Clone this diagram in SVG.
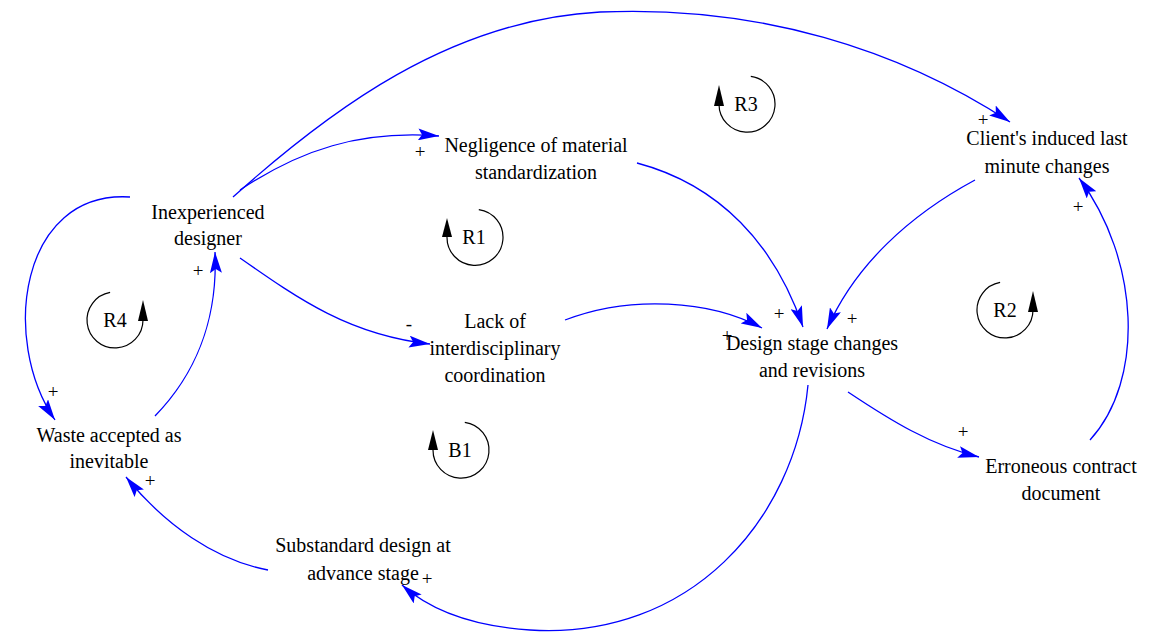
<svg xmlns="http://www.w3.org/2000/svg" width="1149" height="632" viewBox="0 0 1149 632">
  <style>
    text { font-family: "Liberation Serif", "DejaVu Serif", serif; fill: #000; text-anchor: middle; }
    .lbl { font-size: 20px; }
    .pol { font-size: 19px; }
    .link { fill: none; stroke: #0000ff; stroke-width: 1.3; marker-end: url(#arrow); }
    .loop { fill: none; stroke: #000; stroke-width: 1.2; }
    .loophead { fill: #000; }
  </style>
  <defs>
    <marker id="arrow" markerUnits="userSpaceOnUse" markerWidth="22" markerHeight="12" refX="21" refY="6" orient="auto">
      <path d="M0,0 L21,6 L0,12 L4,6 z" fill="#0000ff"/>
    </marker>
  </defs>
  <rect width="1149" height="632" fill="#fff"/>

  <!-- causal links -->
  <g id="connectors">
    <path class="link" d="M240,190 C 300,150 360,130 439,136"/>
    <path class="link" d="M233,197 C 330,110 450,20 600,12 C 760,5 900,50 1010,122"/>
    <path class="link" d="M240,258 C 300,300 350,335 430,344"/>
    <path class="link" d="M637,163 C 720,185 775,245 803,327"/>
    <path class="link" d="M565,320 C 630,295 710,300 762,328"/>
    <path class="link" d="M975,180 C 910,215 855,265 827,329"/>
    <path class="link" d="M848,392 C 890,420 930,445 979,457"/>
    <path class="link" d="M1090,440 C 1145,380 1140,260 1079,178"/>
    <path class="link" d="M808,385 C 795,520 690,640 530,630 C 470,626 430,610 402,585"/>
    <path class="link" d="M268,570 C 215,560 165,525 126,477"/>
    <path class="link" d="M155,416 C 195,375 218,320 215,252"/>
    <path class="link" d="M130,197 C 20,190 0,340 55,420"/>
  </g>

  <!-- link polarities -->
  <g id="polarities" font-family="Liberation Serif, DejaVu Serif, serif">
    <text class="pol" x="420" y="158">+</text>
    <text class="pol" x="409" y="330">-</text>
    <text class="pol" x="779" y="320">+</text>
    <text class="pol" x="852" y="325">+</text>
    <text class="pol" x="727" y="342">+</text>
    <text class="pol" x="983" y="126">+</text>
    <text class="pol" x="1078" y="213">+</text>
    <text class="pol" x="963" y="438">+</text>
    <text class="pol" x="427" y="585">+</text>
    <text class="pol" x="53" y="398">+</text>
    <text class="pol" x="150" y="487">+</text>
    <text class="pol" x="198" y="277">+</text>
  </g>

  <!-- variables -->
  <g id="inexperienced-designer">
    <text class="lbl" x="208" y="219">Inexperienced</text>
    <text class="lbl" x="208" y="245">designer</text>
  </g>
  <g id="negligence-standardization">
    <text class="lbl" x="536" y="152">Negligence of material</text>
    <text class="lbl" x="536" y="179">standardization</text>
  </g>
  <g id="lack-coordination">
    <text class="lbl" x="495" y="328">Lack of</text>
    <text class="lbl" x="495" y="355">interdisciplinary</text>
    <text class="lbl" x="495" y="382">coordination</text>
  </g>
  <g id="design-changes">
    <text class="lbl" x="812" y="350">Design stage changes</text>
    <text class="lbl" x="812" y="377">and revisions</text>
  </g>
  <g id="client-changes">
    <text class="lbl" x="1047" y="145">Client's induced last</text>
    <text class="lbl" x="1047" y="173">minute changes</text>
  </g>
  <g id="erroneous-contract">
    <text class="lbl" x="1061" y="473">Erroneous contract</text>
    <text class="lbl" x="1061" y="500">document</text>
  </g>
  <g id="waste-accepted">
    <text class="lbl" x="109" y="442">Waste accepted as</text>
    <text class="lbl" x="109" y="468">inevitable</text>
  </g>
  <g id="substandard-design">
    <text class="lbl" x="363" y="552">Substandard design at</text>
    <text class="lbl" x="363" y="580">advance stage</text>
  </g>

  <!-- loop markers -->
  <g id="loop-R1">
    <path class="loop" d="M478.8,209.6 A28,28 0 1 1 447,237"/>
    <path class="loophead" d="M447,218 L452,237 L442,237 z"/>
    <text class="lbl" x="474" y="244">R1</text>
  </g>
  <g id="loop-R3">
    <path class="loop" d="M750.8,76.4 A28,28 0 1 1 719,104"/>
    <path class="loophead" d="M719,85 L724,106 L714,106 z"/>
    <text class="lbl" x="746" y="111">R3</text>
  </g>
  <g id="loop-B1">
    <path class="loop" d="M464.8,422.4 A28,28 0 1 1 433,450"/>
    <path class="loophead" d="M433,430 L438,450 L428,450 z"/>
    <text class="lbl" x="460" y="457">B1</text>
  </g>
  <g id="loop-R4">
    <path class="loop" d="M110.1,292.4 A28,28 0 1 0 143,320"/>
    <path class="loophead" d="M143,300 L148,321 L138,321 z"/>
    <text class="lbl" x="115" y="327">R4</text>
  </g>
  <g id="loop-R2">
    <path class="loop" d="M1000.1,282.4 A28,28 0 1 0 1033,310"/>
    <path class="loophead" d="M1033,291 L1038,312 L1028,312 z"/>
    <text class="lbl" x="1005" y="317">R2</text>
  </g>
</svg>
